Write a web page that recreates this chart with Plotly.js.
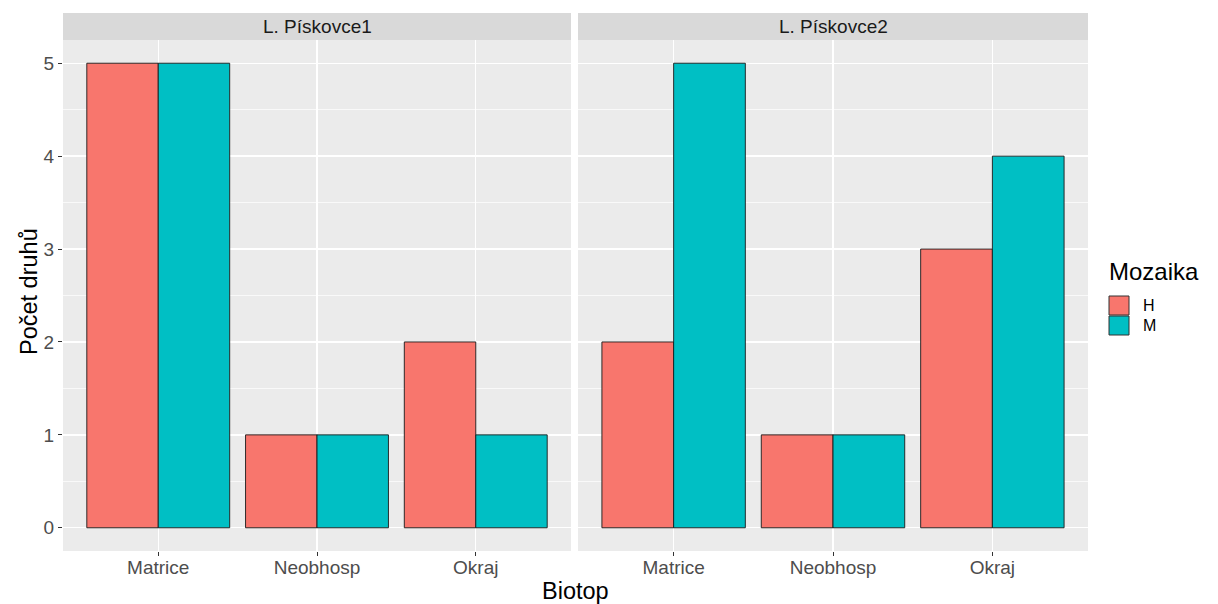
<!DOCTYPE html>
<html>
<head>
<meta charset="utf-8">
<script src="https://cdn.plot.ly/plotly-3.0.1.min.js"></script>
<style>html,body{margin:0;padding:0;background:#fff;}#chart{width:1218px;height:604px;}</style>
</head>
<body>
<div id="chart"></div>
<script>
const biotop = ["Matrice", "Neobhosp", "Okraj"];
const facets = ["L. Pískovce1", "L. Pískovce2"];
const mozaika = ["H", "M"];
const p1_H = [5, 1, 2];
const p1_M = [5, 1, 1];
const p2_H = [2, 1, 3];
const p2_M = [5, 1, 4];
const yTicks = [0, 1, 2, 3, 4, 5];

const colors = {H: "#F8766D", M: "#00BFC4"};
const FONT = "Liberation Sans, Arial, sans-serif";

function bar(name, y, xa, ya) {
  return {type: "bar", name: name, x: biotop, y: y, xaxis: xa, yaxis: ya,
    marker: {color: colors[name], line: {color: "#1a1a1a", width: 0.9}},
    legendgroup: name, showlegend: false, hoverinfo: "x+y+name"};
}
const data = [
  bar(mozaika[0], p1_H, "x", "y"),
  bar(mozaika[1], p1_M, "x", "y"),
  bar(mozaika[0], p2_H, "x2", "y2"),
  bar(mozaika[1], p2_M, "x2", "y2")
];

const L = 63, R = 1088, plotTop = 40, plotBot = 551, stripH = 27;
const pw = R - L, ph = plotBot - plotTop;
const px = v => (v - L) / pw;
const py = v => (plotBot - v) / ph;
const d1 = [0, px(571)], d2 = [px(578), 1];

function xax(dom, anchor) {
  return {domain: dom, anchor: anchor, type: "category", range: [-0.6, 2.6],
    showgrid: true, gridcolor: "#FFFFFF", gridwidth: 1.4, zeroline: false,
    ticks: "outside", ticklen: 4, tickwidth: 1, tickcolor: "#333333", ticklabelstandoff: -5,
    tickfont: {family: FONT, size: 19, color: "#4D4D4D"}, showline: false, fixedrange: true};
}
function yax(anchor, labels) {
  return {anchor: anchor, range: [-0.25, 5.25], tickvals: yTicks, showticklabels: labels,
    showgrid: true, gridcolor: "#FFFFFF", gridwidth: 1.4, zeroline: false,
    minor: {dtick: 0.5, tick0: 0, showgrid: true, gridcolor: "#FFFFFF", gridwidth: 0.7, ticks: ""},
    ticks: labels ? "outside" : "", ticklen: 4, tickwidth: 1, tickcolor: "#333333",
    tickfont: {family: FONT, size: 19, color: "#4D4D4D"}, showline: false, fixedrange: true};
}

const y1 = yax("x", true);
const y2 = yax("x2", false);
y2.matches = "y";

const shapes = [], annotations = [];
[d1, d2].forEach((d, i) => {
  shapes.push({type: "rect", xref: "paper", yref: "paper", x0: d[0], x1: d[1],
    y0: 1, y1: 1 + stripH / ph, fillcolor: "#D9D9D9", line: {width: 0}, layer: "below"});
  annotations.push({xref: "paper", yref: "paper", x: (d[0] + d[1]) / 2, y: 1 + stripH / 2 / ph,
    text: facets[i], showarrow: false, xanchor: "center", yanchor: "middle",
    font: {family: FONT, size: 19, color: "#1A1A1A"}});
});
// axis titles
annotations.push({xref: "paper", yref: "paper", x: 0.5, y: py(591), text: "Biotop",
  showarrow: false, xanchor: "center", yanchor: "middle", font: {family: FONT, size: 23.5, color: "#000"}});
annotations.push({xref: "paper", yref: "paper", x: px(29), y: py(292), text: "Počet druhů", textangle: -90,
  showarrow: false, xanchor: "center", yanchor: "middle", font: {family: FONT, size: 23.5, color: "#000"}});

// legend (ggplot-style keys)
annotations.push({xref: "paper", yref: "paper", x: px(1107), y: py(271), text: "Mozaika",
  showarrow: false, xanchor: "left", yanchor: "middle", font: {family: FONT, size: 24, color: "#000"}});
mozaika.forEach((m, i) => {
  const top = 296 + i * 20;
  shapes.push({type: "rect", xref: "paper", yref: "paper", x0: px(1109), x1: px(1129),
    y0: py(top + 19), y1: py(top), fillcolor: colors[m], line: {color: "#333333", width: 1}});
  annotations.push({xref: "paper", yref: "paper", x: px(1141), y: py(top + 9.5), text: m,
    showarrow: false, xanchor: "left", yanchor: "middle", font: {family: FONT, size: 16, color: "#000"}});
});

const layout = {
  width: 1218, height: 604,
  margin: {l: L, r: 1218 - R, t: plotTop, b: 604 - plotBot},
  paper_bgcolor: "#FFFFFF", plot_bgcolor: "#EBEBEB",
  barmode: "group", bargap: 0.1, bargroupgap: 0,
  xaxis: xax(d1, "y"), xaxis2: xax(d2, "y2"),
  yaxis: y1, yaxis2: y2,
  showlegend: false,
  shapes: shapes, annotations: annotations,
  font: {family: FONT}
};

Plotly.newPlot("chart", data, layout, {displayModeBar: false, staticPlot: true});
</script>
</body>
</html>
